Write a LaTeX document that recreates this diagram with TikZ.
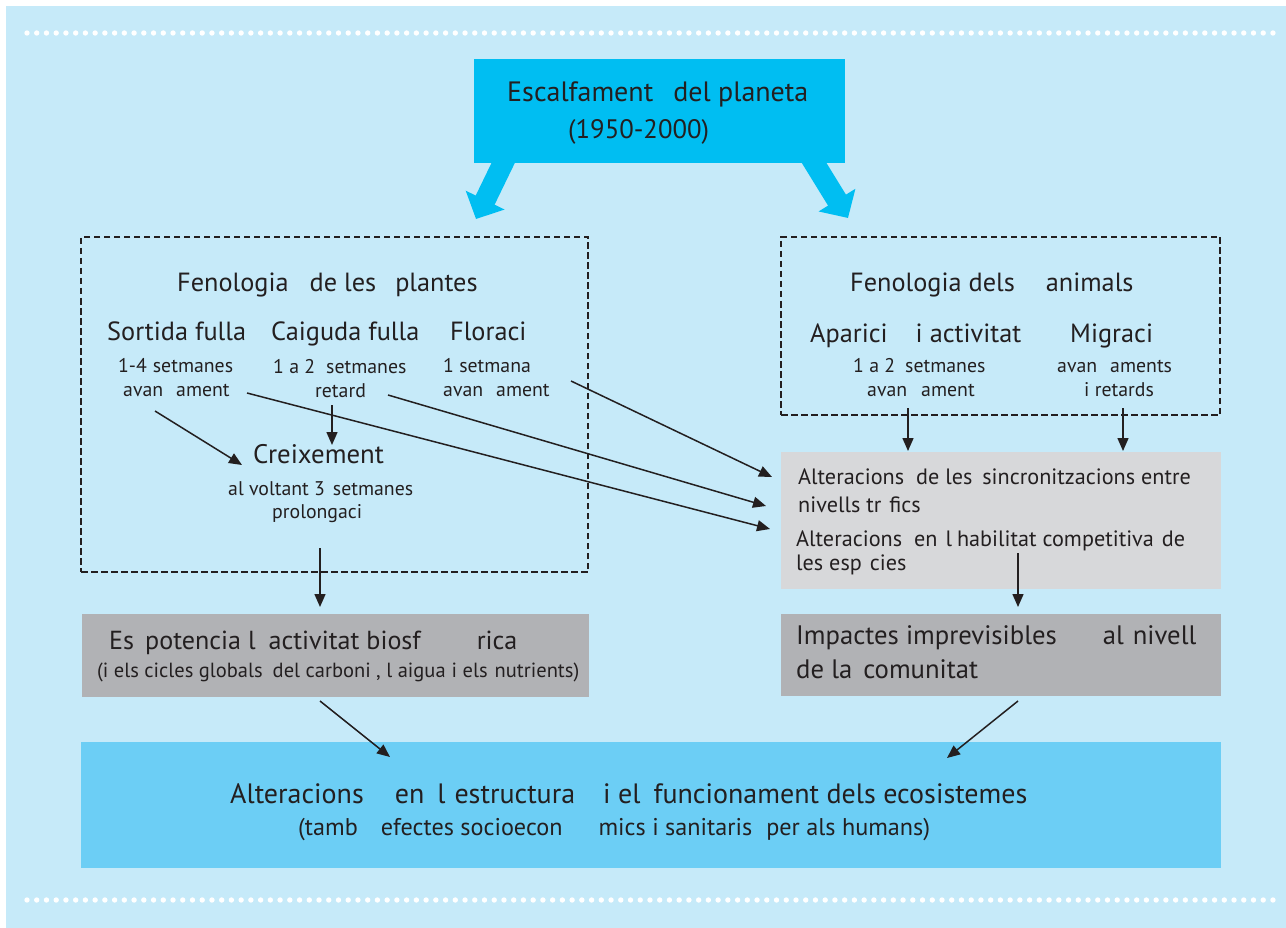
\documentclass[tikz,border=0pt]{standalone}
\usepackage{fontspec}
\setmainfont{PT Sans}
\usetikzlibrary{arrows.meta,calc}
\definecolor{bgblue}{RGB}{198,234,249}
\definecolor{topcyan}{RGB}{0,190,242}
\definecolor{ecoblue}{RGB}{108,206,245}
\definecolor{lgray}{RGB}{215,216,218}
\definecolor{dgray}{RGB}{177,178,181}
\definecolor{txt}{RGB}{35,31,32}
\newcommand{\gp}[1]{\hspace{#1pt}}
\newcommand{\fs}[1]{\fontsize{#1pt}{#1pt}\selectfont}
\begin{document}
\begin{tikzpicture}[x=1pt,y=-1pt,
  lbl/.style={anchor=base west,inner sep=0pt,text=txt},
  boxn/.style={anchor=north west,inner sep=0pt,outer sep=0pt,draw=none},
  dashbox/.style={anchor=north west,inner sep=0pt,outer sep=0pt,draw=txt,line width=1.4pt,dash pattern=on 6.5pt off 3.5pt},
  thinarr/.style={draw=txt,line width=1.5pt,-{Triangle[length=13pt,width=11pt]}},
  thickarr/.style={draw=topcyan,line width=21pt,-{Triangle[length=21pt,width=42pt]}},
  big/.style={font=\fs{28}},
  head/.style={font=\fs{26.3}},
  small/.style={font=\fs{19.8}},
  mid/.style={font=\fs{22.2}},
]
\useasboundingbox (0,0) rectangle (1286,928);
\fill[bgblue] (6,6) rectangle (1286,928);
\foreach \i in {0,...,128}{
  \fill[white] (27+\i*9.734,33) circle (2.7);
  \fill[white] (27+\i*9.734,900) circle (2.7);
}
% boxes
\node[boxn,fill=topcyan,minimum width=371pt,minimum height=104pt] (warm) at (474,59) {};
\node[dashbox,minimum width=507pt,minimum height=335pt] (lbox) at (81,237) {};
\node[dashbox,minimum width=439pt,minimum height=178pt] (rbox) at (781,237) {};
\node[boxn,fill=lgray,minimum width=440pt,minimum height=137pt] (alt) at (781,452) {};
\node[boxn,fill=dgray,minimum width=440pt,minimum height=82pt] (imp) at (781,614) {};
\node[boxn,fill=dgray,minimum width=507pt,minimum height=83pt] (esp) at (82,614) {};
\node[boxn,fill=ecoblue,minimum width=1140pt,minimum height=126pt] (eco) at (81,742) {};
% thick arrows
\coordinate (lt) at (476,219);
\coordinate (rt) at (848,218);
\draw[thickarr] ([xshift=34pt,yshift=10pt]warm.south west) -- (lt);
\draw[thickarr] ([xshift=334pt,yshift=10pt]warm.south west) -- (rt);
% texts
\node[lbl,big] (t1) at (507,101.7) {Escalfament\gp{20}del planeta};
\node[lbl,font=\fs{26.7}] (t2) at (568,139) {(1950-2000)};
\node[lbl,head] (fp) at (177,292) {Fenologia\gp{21}de les\gp{19}plantes};
\node[lbl,head] (s1) at (107,340) {Sortida fulla};
\node[lbl,head] (s2) at (271,340) {Caiguda fulla};
\node[lbl,head] (s3) at (450,340) {Floraci};
\node[lbl,small] (a1) at (118,372) {1-4\gp{6}setmanes};
\node[lbl,small] (sav) at (123,396) {avan\gp{13}ament};
\node[lbl,small] (a2) at (273,373) {1 a 2\gp{11}setmanes};
\node[lbl,small] (cret) at (315,397) {retard};
\node[lbl,small] (a3) at (443,372) {1 setmana};
\node[lbl,small] (fav) at (443,396) {avan\gp{13}ament};
\node[lbl,font=\fs{26.8}] (creix) at (253,463) {Creixement};
\node[lbl,small] (cv) at (228,495) {al voltant 3\gp{8}setmanes};
\node[lbl,small] (cp) at (272,518) {prolongaci};
\node[lbl,head] (fa) at (850,292) {Fenologia dels\gp{31}animals};
\node[lbl,head] (ap) at (810,342) {Aparici\gp{28}i activitat};
\node[lbl,head] (mi) at (1070,342) {Migraci};
\node[lbl,small] (r1) at (853,372) {1 a 2\gp{10}setmanes};
\node[lbl,small] (r2) at (867,396) {avan\gp{14}ament};
\node[lbl,small] (r3) at (1057,372) {avan\gp{13}aments};
\node[lbl,small] (r4) at (1084,396) {i retards};
\node[lbl,mid] (g1) at (798,484) {Alteracions\gp{12}de les\gp{10}sincronitzacions entre};
\node[lbl,mid] (g2) at (798,512) {nivells tr\gp{8}fics};
\node[lbl,mid] (g3) at (796,546) {Alteracions\gp{12}en\gp{8}l\gp{5}habilitat competitiva\gp{8}de};
\node[lbl,mid] (g4) at (796,570) {les esp\gp{8}cies};
\node[lbl,font=\fs{26.7}] (i1) at (796,644) {Impactes imprevisibles\gp{46}al\gp{9}nivell};
\node[lbl,font=\fs{26.7}] (i2) at (796,678) {de la\gp{11}comunitat};
\node[lbl,font=\fs{26.1}] (e1) at (109,649) {Es\gp{11}potencia l\gp{13}activitat biosf\gp{56}rica};
\node[lbl,font=\fs{20.5}] (e2) at (97,677) {(i els cicles globals\gp{10}del carboni , l aigua\gp{6}i els\gp{7}nutrients)};
\node[lbl,font=\fs{28}] (b1) at (230,803) {Alteracions\gp{31}en\gp{13}l\gp{9}estructura\gp{28}i el\gp{13}funcionament dels ecosistemes};
\node[lbl,font=\fs{24.2}] (b2) at (298,835) {(tamb\gp{23}efectes socioecon\gp{36}mics i sanitaris\gp{14}per als humans)};
% thin arrows
\draw[thinarr] ([xshift=32pt,yshift=-15pt]sav.base west) -- ([xshift=-11pt,yshift=-2pt]creix.base west);
\draw[thinarr] ([xshift=17pt,yshift=-8pt]cret.base west) -- ([xshift=79pt,yshift=18pt]creix.base west);
\draw[thinarr] ([xshift=124pt,yshift=3pt]sav.base west) -- ([xshift=-11pt,yshift=-77pt]alt.north west);
\draw[thinarr] ([xshift=73pt,yshift=2pt]cret.base west) -- ([xshift=-15pt,yshift=-54pt]alt.north west);
\draw[thinarr] ([xshift=128pt,yshift=15pt]fav.base west) -- ([xshift=-9pt,yshift=-25pt]alt.north west);
\draw[thinarr] ([xshift=127pt,yshift=7pt]rbox.south west) -- ([xshift=127pt,yshift=1pt]alt.north west);
\draw[thinarr] ([xshift=342pt,yshift=7pt]rbox.south west) -- ([xshift=342pt,yshift=1pt]alt.north west);
\draw[thinarr] ([xshift=237pt,yshift=-101pt]alt.north west) -- ([xshift=237pt,yshift=7pt]imp.north west);
\draw[thinarr] ([xshift=239pt,yshift=24pt]lbox.south west) -- ([xshift=238pt,yshift=7pt]esp.north west);
\draw[thinarr] ([xshift=238pt,yshift=-4pt]esp.south west) -- ([xshift=309pt,yshift=-15pt]eco.north west);
\draw[thinarr] ([xshift=237pt,yshift=-5pt]imp.south west) -- ([xshift=866pt,yshift=-16pt]eco.north west);
\end{tikzpicture}
\end{document}
